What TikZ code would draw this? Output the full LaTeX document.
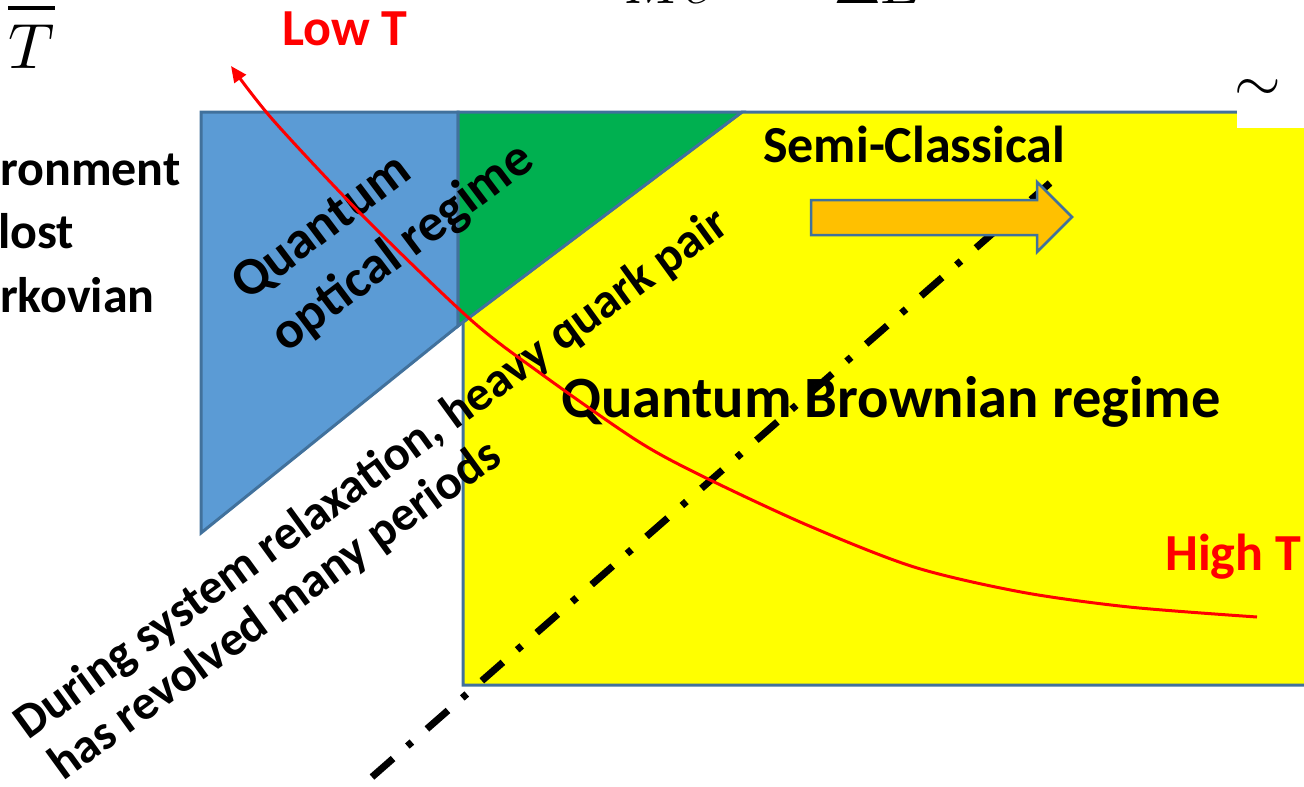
\documentclass[tikz,border=0pt]{standalone}
\usepackage{graphicx}
\usepackage{fontspec}
\setmainfont{Carlito}
\usetikzlibrary{arrows.meta}
\definecolor{qblue}{HTML}{5B9BD5}
\definecolor{qedge}{HTML}{41719C}
\definecolor{qgreen}{HTML}{00B050}
\definecolor{qyellow}{HTML}{FFFF00}
\definecolor{qorange}{HTML}{FFC000}
\begin{document}
\begin{tikzpicture}[x=1pt,y=-1pt,
  region/.style={draw=qedge, line width=3pt, line join=miter},
  lbl/.style={inner sep=0pt, anchor=base west, font=\bfseries\fontsize{52}{62}\selectfont},
  biglbl/.style={lbl, font=\bfseries\fontsize{58.5}{70}\selectfont},
  qolbl/.style={lbl, rotate=37, font=\bfseries\fontsize{53}{63}\selectfont},
  durlbl/.style={lbl, rotate=36, font=\bfseries\fontsize{49}{59}\selectfont},
  leftlbl/.style={lbl, font=\bfseries\fontsize{50}{60}\selectfont},
  mathlbl/.style={inner sep=0pt, anchor=base west},
  dashdot/.style={line width=7pt, dash pattern=on 28pt off 19pt on 6pt off 20pt},
  temp/.style={red, line width=3pt}
]
\useasboundingbox (0,0) rectangle (1304,787);
\clip (0,0) rectangle (1304,787);

% regions
\path[region, fill=qyellow] (463,322) -- (742,112) -- (1320,112) -- (1320,685) -- (463,685) -- cycle;
\path[region, fill=qblue] (201,112) -- (458,112) -- (458,326) -- (201,533) -- cycle;
\path[region, fill=qgreen] (458,112) -- (742,112) -- (458,326) -- cycle;

% dash-dot line
\coordinate (dd1) at (372,777);
\coordinate (dd2) at (1050,183);
\draw[dashdot] (dd1) -- (dd2);

% semi-classical arrow
\path[draw=qedge, line width=2.5pt, fill=qorange, line join=miter]
  (811,200) -- (1037,200) -- (1037,182) -- (1072,217) -- (1037,252) -- (1037,235) -- (811,235) -- cycle;

% tilde with white patch
\fill[white] (1237,98) rectangle (1310,128);
\node[inner sep=0pt] (tilde) at (1258,90) {\scalebox{6}{$\sim$}};

% top-left T with bar
\node[mathlbl] (tbar) at (8,68) {\scalebox{6.4}{$T$}};
\draw[line width=4pt] (8,8) -- (55,8);

% top cut-off math
\node[mathlbl] (mc) at (624,4) {\scalebox{5.6}{$Mc^2$}};
\node[mathlbl] (de) at (834,4) {\scalebox{5.6}{$\Delta E$}};

% labels
\node[lbl, red] (lowT) at (282,45) {Low T};
\node[lbl] (semi) at (763,162) {Semi-Classical};
\node[biglbl] (qbr) at (561,417) {Quantum Brownian regime};
\node[lbl, red] (highT) at (1165,570) {High T};
\node[leftlbl] (l1) at (0,185) {ronment};
\node[leftlbl] (l2) at (-2,248) {lost};
\node[leftlbl] (l3) at (0,312) {rkovian};
\node[qolbl] (qo1) at (247,302) {Quantum};
\node[qolbl] (qo2) at (286,354) {optical regime};
\node[durlbl] (du1) at (28,741) {During system relaxation, heavy quark pair};
\node[durlbl] (du2) at (63,782) {has revolved many periods};

% temperature curve
\draw[temp, -{Triangle[length=16pt,width=14pt]}] plot[smooth, tension=0.5] coordinates
  {(1257,617) (1129,607) (1021,592) (914,567) (807,525) (700,475) (636,440) (540,373) (471,320) (364,217) (273,120) (231,66)};
\end{tikzpicture}
\end{document}
